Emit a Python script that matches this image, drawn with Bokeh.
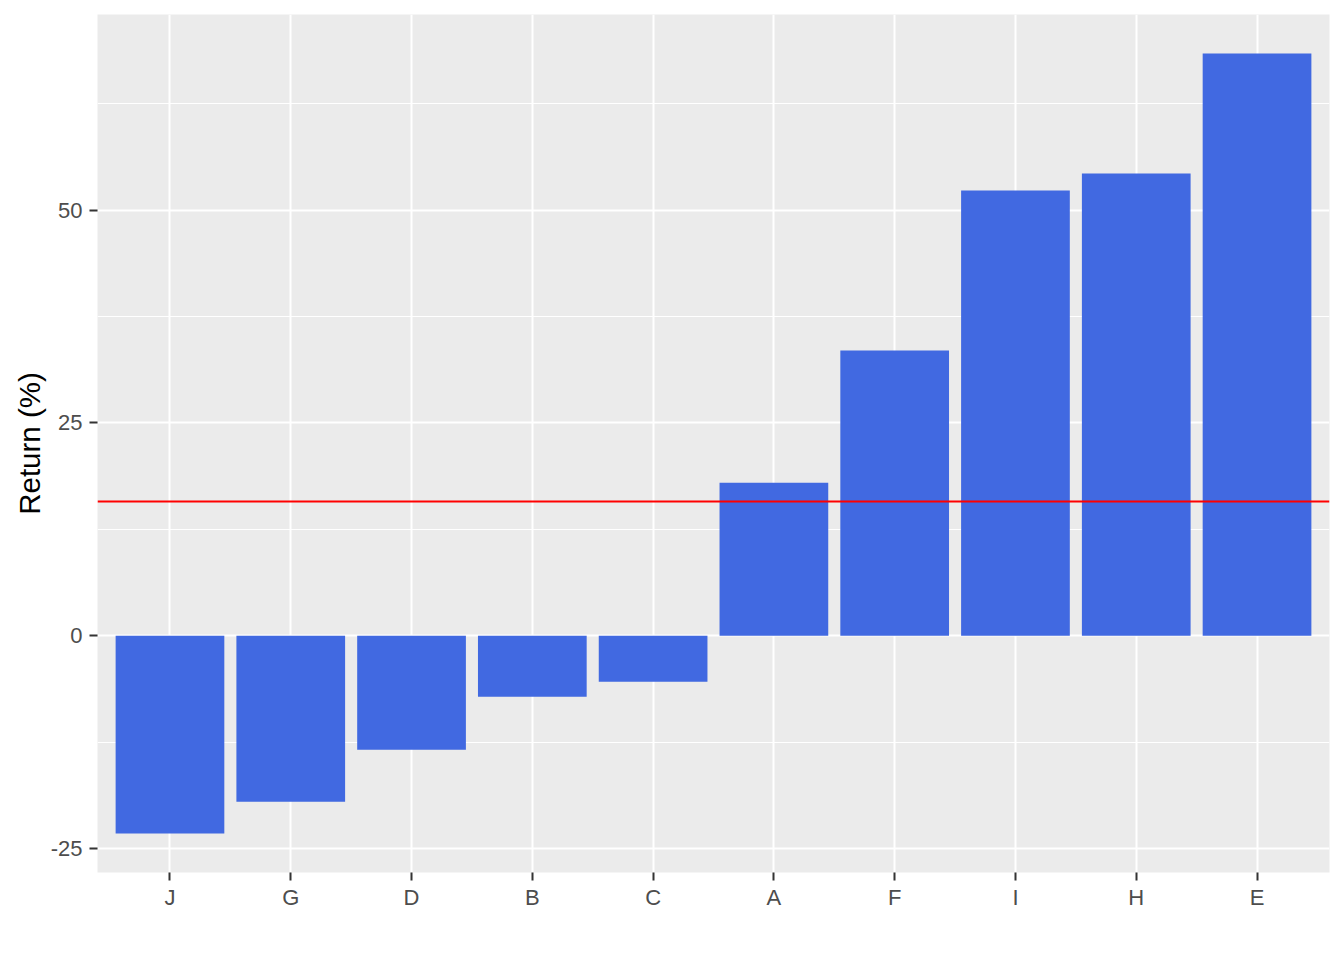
from bokeh.plotting import figure
from bokeh.models import ColumnDataSource, FactorRange, Range1d, FixedTicker, Span
from bokeh.embed import file_html
from bokeh.resources import INLINE

# ---- data ----
categories = ["J", "G", "D", "B", "C", "A", "F", "I", "H", "E"]
returns = [-23.23, -19.5, -13.4, -7.17, -5.4, 17.98, 33.49, 52.29, 54.29, 68.39]
y_ticks = [-25, 0, 25, 50]
y_tick_labels = ["-25", "0", "25", "50"]
y_minor = [-12.5, 12.5, 37.5, 62.5]
y_label = "Return (%)"

mean_return = sum(returns) / len(returns)

lo, hi = min(returns), max(returns)
pad = (hi - lo) * 0.05

src = ColumnDataSource(dict(cat=categories, ret=returns))

p = figure(
    width=1336, height=952,
    x_range=FactorRange(factors=categories, range_padding=0.1, range_padding_units="absolute"),
    y_range=Range1d(lo - pad, hi + pad),
    output_backend="svg", toolbar_location=None,
    min_border_left=97, min_border_right=7, min_border_top=14, min_border_bottom=80,
)
p.outline_line_color = None
p.background_fill_color = "#EBEBEB"
p.border_fill_color = "white"

p.vbar(x="cat", top="ret", bottom=0, width=0.9, source=src,
       fill_color="#4169E1", line_color=None)

p.add_layout(Span(location=mean_return, dimension="width", line_color="#FF0000", line_width=2))

p.yaxis.ticker = FixedTicker(ticks=y_ticks, minor_ticks=y_minor)
p.ygrid.ticker = FixedTicker(ticks=y_ticks, minor_ticks=y_minor)
p.yaxis.major_label_overrides = {t: s for t, s in zip(y_ticks, y_tick_labels)}

for g in (p.xgrid, p.ygrid):
    g.grid_line_color = "white"
    g.grid_line_width = 2
p.ygrid.minor_grid_line_color = "white"
p.ygrid.minor_grid_line_width = 1

for ax in (p.xaxis, p.yaxis):
    ax.axis_line_color = None
    ax.major_tick_line_color = "#333333"
    ax.major_tick_line_width = 2
    ax.major_tick_out = 8
    ax.major_tick_in = 0
    ax.minor_tick_line_color = None
    ax.major_label_text_font = "Liberation Sans"
    ax.major_label_text_font_size = "22px"
    ax.major_label_text_color = "#4D4D4D"

p.xaxis.major_label_standoff = 4
p.yaxis.major_label_standoff = 7

p.yaxis.axis_label = y_label
p.yaxis.axis_label_text_font = "Liberation Sans"
p.yaxis.axis_label_text_font_size = "29.5px"
p.yaxis.axis_label_text_font_style = "normal"
p.yaxis.axis_label_text_color = "black"
p.yaxis.axis_label_standoff = 2

open("out.html", "w").write(file_html(p, INLINE))
